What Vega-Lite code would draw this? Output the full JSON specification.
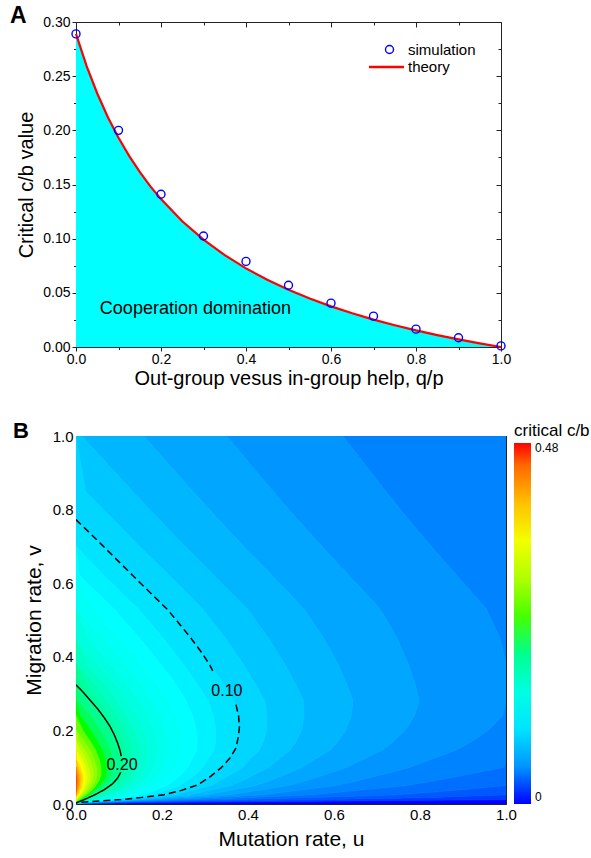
{
"$schema":"https://vega.github.io/schema/vega-lite/v6.json",
"padding":{"left":10,"top":5,"right":0,"bottom":0},
"spacing":32,
"resolve":{"scale":{"color":"independent","stroke":"independent","strokeDash":"independent"},"legend":{"color":"independent","stroke":"independent","strokeDash":"independent"}},
"config":{"font":"Liberation Sans","view":{"stroke":null},
"axis":{"grid":false,"minExtent":0,"domainColor":"#222","tickColor":"#222","labelColor":"#000","titleColor":"#000","titleFontWeight":"normal","labelOverlap":false,"labelFlush":false,"labelFont":"Liberation Sans","titleFont":"Liberation Sans"},
"legend":{"labelFont":"Liberation Sans","titleFont":"Liberation Sans"},
"title":{"font":"Liberation Sans"}},
"vconcat":[
{"width":425,"height":325,
"title":{"text":"A","anchor":"start","frame":"group","dx":-66,"offset":-13,"fontSize":23,"fontWeight":"bold","color":"#000"},
"layer":[
{"data":{"name":"theoryA","values":[{"q":0,"cb":0.289,"s":"theory"},{"q":0.025,"cb":0.2593,"s":"theory"},{"q":0.05,"cb":0.234,"s":"theory"},{"q":0.075,"cb":0.2121,"s":"theory"},{"q":0.1,"cb":0.1931,"s":"theory"},{"q":0.125,"cb":0.1764,"s":"theory"},{"q":0.15,"cb":0.1616,"s":"theory"},{"q":0.175,"cb":0.1483,"s":"theory"},{"q":0.2,"cb":0.1365,"s":"theory"},{"q":0.25,"cb":0.1161,"s":"theory"},{"q":0.3,"cb":0.0991,"s":"theory"},{"q":0.35,"cb":0.0848,"s":"theory"},{"q":0.4,"cb":0.0726,"s":"theory"},{"q":0.45,"cb":0.0621,"s":"theory"},{"q":0.5,"cb":0.0528,"s":"theory"},{"q":0.55,"cb":0.0447,"s":"theory"},{"q":0.6,"cb":0.0375,"s":"theory"},{"q":0.65,"cb":0.0311,"s":"theory"},{"q":0.7,"cb":0.0253,"s":"theory"},{"q":0.75,"cb":0.0201,"s":"theory"},{"q":0.8,"cb":0.0153,"s":"theory"},{"q":0.85,"cb":0.011,"s":"theory"},{"q":0.9,"cb":0.007,"s":"theory"},{"q":0.95,"cb":0.0034,"s":"theory"},{"q":1,"cb":0,"s":"theory"}]},
"mark":{"type":"area","color":"#00ffff","opacity":1},
"encoding":{
"x":{"field":"q","type":"quantitative","scale":{"domain":[0,1],"nice":false,"zero":false},
"axis":{"orient":"bottom","values":[0,0.1,0.2,0.3,0.4,0.5,0.6,0.7,0.8,0.9,1],"labelExpr":"round(datum.value*10)%2==0 ? format(datum.value,'.1f') : ''","tickSize":{"condition":{"test":"round(datum.value*10)%2==0","value":4},"value":2.5},"title":"Out-group vesus in-group help, q/p","titleFontSize":20,"titlePadding":2,"labelFontSize":14,"labelPadding":1}},
"y":{"field":"cb","type":"quantitative","scale":{"domain":[0,0.3],"nice":false,"zero":false},
"axis":{"orient":"left","values":[0,0.025,0.05,0.075,0.1,0.125,0.15,0.175,0.2,0.225,0.25,0.275,0.3],"labelExpr":"round(datum.value*40)%2==0 ? format(datum.value,'.2f') : ''","tickSize":{"condition":{"test":"round(datum.value*40)%2==0","value":4},"value":2.5},"title":"Critical c/b value","titleFontSize":20,"titlePadding":6,"labelFontSize":14,"labelPadding":2}}}},
{"data":{"name":"theoryA"},
"mark":{"type":"line","strokeWidth":2.2},
"encoding":{
"x":{"field":"q","type":"quantitative","scale":{"domain":[0,1],"nice":false,"zero":false},
"axis":{"orient":"top","values":[0,0.1,0.2,0.3,0.4,0.5,0.6,0.7,0.8,0.9,1],"labels":false,"title":null,"minExtent":0,"tickSize":{"condition":{"test":"round(datum.value*10)%2==0","value":-5},"value":-3}}},
"y":{"field":"cb","type":"quantitative","scale":{"domain":[0,0.3],"nice":false,"zero":false},
"axis":{"orient":"right","values":[0,0.025,0.05,0.075,0.1,0.125,0.15,0.175,0.2,0.225,0.25,0.275,0.3],"labels":false,"title":null,"minExtent":0,"tickSize":{"condition":{"test":"round(datum.value*40)%2==0","value":-5},"value":-3}}},
"stroke":{"field":"s","type":"nominal","scale":{"domain":["theory"],"range":["#ff0000"]},
"legend":{"title":null,"orient":"none","legendX":291.5,"legendY":26,"direction":"vertical","padding":0,"labelFontSize":15,"symbolType":"stroke","symbolSize":1225,"symbolStrokeWidth":2.5,"symbolOffset":0,"labelOffset":2.5}}}},
{"data":{"values":[{"q":0,"cb":0.289,"s":"simulation"},{"q":0.1,"cb":0.2,"s":"simulation"},{"q":0.2,"cb":0.141,"s":"simulation"},{"q":0.3,"cb":0.1025,"s":"simulation"},{"q":0.4,"cb":0.079,"s":"simulation"},{"q":0.5,"cb":0.057,"s":"simulation"},{"q":0.6,"cb":0.0405,"s":"simulation"},{"q":0.7,"cb":0.0285,"s":"simulation"},{"q":0.8,"cb":0.0165,"s":"simulation"},{"q":0.9,"cb":0.0085,"s":"simulation"},{"q":1,"cb":0.001,"s":"simulation"}]},
"mark":{"type":"point","filled":false,"size":64,"strokeWidth":1.4,"opacity":1,"clip":false},
"encoding":{
"x":{"field":"q","type":"quantitative","scale":{"domain":[0,1],"nice":false,"zero":false},"axis":null},
"y":{"field":"cb","type":"quantitative","scale":{"domain":[0,0.3],"nice":false,"zero":false},"axis":null},
"color":{"field":"s","type":"nominal","scale":{"domain":["simulation"],"range":["#0000ff"]},
"legend":{"title":null,"orient":"none","legendX":290,"legendY":20,"direction":"vertical","padding":0,"labelFontSize":15,"symbolType":"circle","symbolSize":64,"symbolStrokeWidth":1.4,"symbolOffset":16,"labelOffset":11}}}},
{"data":{"values":[{}]},
"mark":{"type":"text","fontSize":18,"color":"#000"},
"encoding":{"x":{"datum":0.281,"type":"quantitative","scale":{"domain":[0,1],"nice":false,"zero":false},"axis":null},"y":{"datum":0.035,"type":"quantitative","scale":{"domain":[0,0.3],"nice":false,"zero":false},"axis":null},"text":{"value":"Cooperation domination"}}}
],
"resolve":{"axis":{"x":"independent","y":"independent"}}},
{"width":430,"height":368,
"title":{"text":"B","anchor":"start","frame":"group","dx":-63,"offset":-20,"fontSize":22,"fontWeight":"bold","color":"#000"},
"layer":[
{"data":{"values":[
{"z":0,"v":0,"a":0,"b":1},{"z":0,"v":0.004,"a":0.136,"b":1},{"z":0,"v":0.008,"a":0.592,"b":1},{"z":0,"v":0.012,"a":1,"b":1},
{"z":0.01,"v":0,"a":0,"b":0},{"z":0.01,"v":0.004,"a":0.066,"b":0.136},{"z":0.01,"v":0.008,"a":0.292,"b":0.592},{"z":0.01,"v":0.012,"a":0.573,"b":1},{"z":0.01,"v":0.018,"a":0.827,"b":1},{"z":0.01,"v":0.025,"a":1,"b":1},
{"z":0.02,"v":0,"a":0,"b":0},{"z":0.02,"v":0.004,"a":0.043,"b":0.066},{"z":0.02,"v":0.008,"a":0.192,"b":0.292},{"z":0.02,"v":0.012,"a":0.378,"b":0.573},{"z":0.02,"v":0.018,"a":0.545,"b":0.827},{"z":0.02,"v":0.025,"a":0.742,"b":1},{"z":0.02,"v":0.035,"a":0.862,"b":1},{"z":0.02,"v":0.05,"a":1,"b":1},
{"z":0.03,"v":0,"a":0,"b":0},{"z":0.03,"v":0.004,"a":0.031,"b":0.043},{"z":0.03,"v":0.008,"a":0.142,"b":0.192},{"z":0.03,"v":0.012,"a":0.281,"b":0.378},{"z":0.03,"v":0.018,"a":0.405,"b":0.545},{"z":0.03,"v":0.025,"a":0.55,"b":0.742},{"z":0.03,"v":0.035,"a":0.638,"b":0.862},{"z":0.03,"v":0.05,"a":0.768,"b":1},{"z":0.03,"v":0.065,"a":0.843,"b":1},{"z":0.03,"v":0.08,"a":0.91,"b":1},{"z":0.03,"v":0.1,"a":0.995,"b":1},{"z":0.03,"v":0.12,"a":1,"b":1},
{"z":0.04,"v":0,"a":0,"b":0},{"z":0.04,"v":0.004,"a":0.024,"b":0.031},{"z":0.04,"v":0.008,"a":0.112,"b":0.142},{"z":0.04,"v":0.012,"a":0.222,"b":0.281},{"z":0.04,"v":0.018,"a":0.32,"b":0.405},{"z":0.04,"v":0.025,"a":0.435,"b":0.55},{"z":0.04,"v":0.035,"a":0.503,"b":0.638},{"z":0.04,"v":0.05,"a":0.604,"b":0.768},{"z":0.04,"v":0.065,"a":0.661,"b":0.843},{"z":0.04,"v":0.08,"a":0.712,"b":0.91},{"z":0.04,"v":0.1,"a":0.776,"b":0.995},{"z":0.04,"v":0.12,"a":0.822,"b":1},{"z":0.04,"v":0.145,"a":0.881,"b":1},{"z":0.04,"v":0.17,"a":0.92,"b":1},{"z":0.04,"v":0.2,"a":0.958,"b":1},{"z":0.04,"v":0.24,"a":0.992,"b":1},{"z":0.04,"v":0.28,"a":1,"b":1},{"z":0.04,"v":0.324,"a":1,"b":1},{"z":0.04,"v":0.38,"a":1,"b":1},{"z":0.04,"v":0.45,"a":0.986,"b":1},{"z":0.04,"v":0.53,"a":0.954,"b":1},{"z":0.04,"v":0.62,"a":0.886,"b":1},{"z":0.04,"v":0.7,"a":0.826,"b":1},{"z":0.04,"v":0.773,"a":0.773,"b":1},{"z":0.04,"v":0.85,"a":0.72,"b":1},{"z":0.04,"v":1,"a":0.62,"b":1},
{"z":0.05,"v":0,"a":0,"b":0},{"z":0.05,"v":0.004,"a":0.019,"b":0.024},{"z":0.05,"v":0.008,"a":0.092,"b":0.112},{"z":0.05,"v":0.012,"a":0.183,"b":0.222},{"z":0.05,"v":0.018,"a":0.264,"b":0.32},{"z":0.05,"v":0.025,"a":0.358,"b":0.435},{"z":0.05,"v":0.035,"a":0.413,"b":0.503},{"z":0.05,"v":0.05,"a":0.495,"b":0.604},{"z":0.05,"v":0.065,"a":0.54,"b":0.661},{"z":0.05,"v":0.08,"a":0.58,"b":0.712},{"z":0.05,"v":0.1,"a":0.63,"b":0.776},{"z":0.05,"v":0.12,"a":0.665,"b":0.822},{"z":0.05,"v":0.145,"a":0.71,"b":0.881},{"z":0.05,"v":0.17,"a":0.738,"b":0.92},{"z":0.05,"v":0.2,"a":0.765,"b":0.958},{"z":0.05,"v":0.24,"a":0.787,"b":0.992},{"z":0.05,"v":0.28,"a":0.798,"b":1},{"z":0.05,"v":0.324,"a":0.789,"b":1},{"z":0.05,"v":0.38,"a":0.773,"b":1},{"z":0.05,"v":0.45,"a":0.747,"b":0.986},{"z":0.05,"v":0.53,"a":0.707,"b":0.954},{"z":0.05,"v":0.62,"a":0.635,"b":0.886},{"z":0.05,"v":0.7,"a":0.572,"b":0.826},{"z":0.05,"v":0.773,"a":0.515,"b":0.773},{"z":0.05,"v":0.85,"a":0.458,"b":0.72},{"z":0.05,"v":1,"a":0.35,"b":0.62},
{"z":0.06,"v":0,"a":0,"b":0},{"z":0.06,"v":0.004,"a":0.016,"b":0.019},{"z":0.06,"v":0.008,"a":0.078,"b":0.092},{"z":0.06,"v":0.012,"a":0.155,"b":0.183},{"z":0.06,"v":0.018,"a":0.223,"b":0.264},{"z":0.06,"v":0.025,"a":0.304,"b":0.358},{"z":0.06,"v":0.035,"a":0.349,"b":0.413},{"z":0.06,"v":0.05,"a":0.417,"b":0.495},{"z":0.06,"v":0.065,"a":0.454,"b":0.54},{"z":0.06,"v":0.08,"a":0.486,"b":0.58},{"z":0.06,"v":0.1,"a":0.526,"b":0.63},{"z":0.06,"v":0.12,"a":0.553,"b":0.665},{"z":0.06,"v":0.145,"a":0.588,"b":0.71},{"z":0.06,"v":0.17,"a":0.609,"b":0.738},{"z":0.06,"v":0.2,"a":0.627,"b":0.765},{"z":0.06,"v":0.24,"a":0.64,"b":0.787},{"z":0.06,"v":0.28,"a":0.644,"b":0.798},{"z":0.06,"v":0.324,"a":0.63,"b":0.789},{"z":0.06,"v":0.38,"a":0.609,"b":0.773},{"z":0.06,"v":0.45,"a":0.576,"b":0.747},{"z":0.06,"v":0.53,"a":0.53,"b":0.707},{"z":0.06,"v":0.62,"a":0.456,"b":0.635},{"z":0.06,"v":0.7,"a":0.39,"b":0.572},{"z":0.06,"v":0.773,"a":0.331,"b":0.515},{"z":0.06,"v":0.85,"a":0.271,"b":0.458},{"z":0.06,"v":1,"a":0.157,"b":0.35},
{"z":0.07,"v":0,"a":0,"b":0},{"z":0.07,"v":0.004,"a":0.014,"b":0.016},{"z":0.07,"v":0.008,"a":0.067,"b":0.078},{"z":0.07,"v":0.012,"a":0.134,"b":0.155},{"z":0.07,"v":0.018,"a":0.193,"b":0.223},{"z":0.07,"v":0.025,"a":0.263,"b":0.304},{"z":0.07,"v":0.035,"a":0.301,"b":0.349},{"z":0.07,"v":0.05,"a":0.359,"b":0.417},{"z":0.07,"v":0.065,"a":0.389,"b":0.454},{"z":0.07,"v":0.08,"a":0.415,"b":0.486},{"z":0.07,"v":0.1,"a":0.448,"b":0.526},{"z":0.07,"v":0.12,"a":0.469,"b":0.553},{"z":0.07,"v":0.145,"a":0.496,"b":0.588},{"z":0.07,"v":0.17,"a":0.511,"b":0.609},{"z":0.07,"v":0.2,"a":0.524,"b":0.627},{"z":0.07,"v":0.24,"a":0.53,"b":0.64},{"z":0.07,"v":0.28,"a":0.529,"b":0.644},{"z":0.07,"v":0.324,"a":0.511,"b":0.63},{"z":0.07,"v":0.38,"a":0.485,"b":0.609},{"z":0.07,"v":0.45,"a":0.448,"b":0.576},{"z":0.07,"v":0.53,"a":0.398,"b":0.53},{"z":0.07,"v":0.62,"a":0.321,"b":0.456},{"z":0.07,"v":0.7,"a":0.254,"b":0.39},{"z":0.07,"v":0.773,"a":0.193,"b":0.331},{"z":0.07,"v":0.85,"a":0.131,"b":0.271},{"z":0.07,"v":1,"a":0.013,"b":0.157},
{"z":0.08,"v":0,"a":0,"b":0},{"z":0.08,"v":0.004,"a":0.012,"b":0.014},{"z":0.08,"v":0.008,"a":0.059,"b":0.067},{"z":0.08,"v":0.012,"a":0.118,"b":0.134},{"z":0.08,"v":0.018,"a":0.17,"b":0.193},{"z":0.08,"v":0.025,"a":0.231,"b":0.263},{"z":0.08,"v":0.035,"a":0.264,"b":0.301},{"z":0.08,"v":0.05,"a":0.313,"b":0.359},{"z":0.08,"v":0.065,"a":0.338,"b":0.389},{"z":0.08,"v":0.08,"a":0.36,"b":0.415},{"z":0.08,"v":0.1,"a":0.387,"b":0.448},{"z":0.08,"v":0.12,"a":0.403,"b":0.469},{"z":0.08,"v":0.145,"a":0.425,"b":0.496},{"z":0.08,"v":0.17,"a":0.436,"b":0.511},{"z":0.08,"v":0.2,"a":0.443,"b":0.524},{"z":0.08,"v":0.24,"a":0.444,"b":0.53},{"z":0.08,"v":0.28,"a":0.439,"b":0.529},{"z":0.08,"v":0.324,"a":0.418,"b":0.511},{"z":0.08,"v":0.38,"a":0.389,"b":0.485},{"z":0.08,"v":0.45,"a":0.348,"b":0.448},{"z":0.08,"v":0.53,"a":0.294,"b":0.398},{"z":0.08,"v":0.62,"a":0.217,"b":0.321},{"z":0.08,"v":0.7,"a":0.148,"b":0.254},{"z":0.08,"v":0.773,"a":0.086,"b":0.193},{"z":0.08,"v":0.85,"a":0.022,"b":0.131},{"z":0.08,"v":1,"a":0,"b":0.013},
{"z":0.09,"v":0,"a":0,"b":0},{"z":0.09,"v":0.004,"a":0.01,"b":0.012},{"z":0.09,"v":0.008,"a":0.052,"b":0.059},{"z":0.09,"v":0.012,"a":0.105,"b":0.118},{"z":0.09,"v":0.018,"a":0.151,"b":0.17},{"z":0.09,"v":0.025,"a":0.205,"b":0.231},{"z":0.09,"v":0.035,"a":0.234,"b":0.264},{"z":0.09,"v":0.05,"a":0.277,"b":0.313},{"z":0.09,"v":0.065,"a":0.298,"b":0.338},{"z":0.09,"v":0.08,"a":0.316,"b":0.36},{"z":0.09,"v":0.1,"a":0.338,"b":0.387},{"z":0.09,"v":0.12,"a":0.351,"b":0.403},{"z":0.09,"v":0.145,"a":0.368,"b":0.425},{"z":0.09,"v":0.17,"a":0.375,"b":0.436},{"z":0.09,"v":0.2,"a":0.379,"b":0.443},{"z":0.09,"v":0.24,"a":0.376,"b":0.444},{"z":0.09,"v":0.28,"a":0.367,"b":0.439},{"z":0.09,"v":0.324,"a":0.344,"b":0.418},{"z":0.09,"v":0.38,"a":0.312,"b":0.389},{"z":0.09,"v":0.45,"a":0.268,"b":0.348},{"z":0.09,"v":0.53,"a":0.212,"b":0.294},{"z":0.09,"v":0.62,"a":0.133,"b":0.217},{"z":0.09,"v":0.7,"a":0.063,"b":0.148},{"z":0.09,"v":0.773,"a":0,"b":0.086},{"z":0.09,"v":0.85,"a":0,"b":0.022},{"z":0.09,"v":1,"a":0,"b":0},
{"z":0.1,"v":0,"a":0,"b":0},{"z":0.1,"v":0.004,"a":0.008,"b":0.01},{"z":0.1,"v":0.008,"a":0.044,"b":0.052},{"z":0.1,"v":0.012,"a":0.089,"b":0.105},{"z":0.1,"v":0.018,"a":0.129,"b":0.151},{"z":0.1,"v":0.025,"a":0.175,"b":0.205},{"z":0.1,"v":0.035,"a":0.202,"b":0.234},{"z":0.1,"v":0.05,"a":0.241,"b":0.277},{"z":0.1,"v":0.065,"a":0.26,"b":0.298},{"z":0.1,"v":0.08,"a":0.277,"b":0.316},{"z":0.1,"v":0.1,"a":0.295,"b":0.338},{"z":0.1,"v":0.12,"a":0.306,"b":0.351},{"z":0.1,"v":0.145,"a":0.32,"b":0.368},{"z":0.1,"v":0.17,"a":0.324,"b":0.375},{"z":0.1,"v":0.2,"a":0.325,"b":0.379},{"z":0.1,"v":0.24,"a":0.319,"b":0.376},{"z":0.1,"v":0.28,"a":0.307,"b":0.367},{"z":0.1,"v":0.324,"a":0.283,"b":0.344},{"z":0.1,"v":0.38,"a":0.249,"b":0.312},{"z":0.1,"v":0.45,"a":0.203,"b":0.268},{"z":0.1,"v":0.53,"a":0.145,"b":0.212},{"z":0.1,"v":0.62,"a":0.065,"b":0.133},{"z":0.1,"v":0.7,"a":0,"b":0.063},{"z":0.1,"v":0.773,"a":0,"b":0},
{"z":0.11,"v":0,"a":0,"b":0},{"z":0.11,"v":0.004,"a":0.007,"b":0.008},{"z":0.11,"v":0.008,"a":0.038,"b":0.044},{"z":0.11,"v":0.012,"a":0.076,"b":0.089},{"z":0.11,"v":0.018,"a":0.111,"b":0.129},{"z":0.11,"v":0.025,"a":0.151,"b":0.175},{"z":0.11,"v":0.035,"a":0.176,"b":0.202},{"z":0.11,"v":0.05,"a":0.21,"b":0.241},{"z":0.11,"v":0.065,"a":0.229,"b":0.26},{"z":0.11,"v":0.08,"a":0.244,"b":0.277},{"z":0.11,"v":0.1,"a":0.26,"b":0.295},{"z":0.11,"v":0.12,"a":0.269,"b":0.306},{"z":0.11,"v":0.145,"a":0.28,"b":0.32},{"z":0.11,"v":0.17,"a":0.282,"b":0.324},{"z":0.11,"v":0.2,"a":0.28,"b":0.325},{"z":0.11,"v":0.24,"a":0.271,"b":0.319},{"z":0.11,"v":0.28,"a":0.256,"b":0.307},{"z":0.11,"v":0.324,"a":0.233,"b":0.283},{"z":0.11,"v":0.38,"a":0.197,"b":0.249},{"z":0.11,"v":0.45,"a":0.148,"b":0.203},{"z":0.11,"v":0.53,"a":0.088,"b":0.145},{"z":0.11,"v":0.62,"a":0.008,"b":0.065},{"z":0.11,"v":0.7,"a":0,"b":0},
{"z":0.12,"v":0,"a":0,"b":0},{"z":0.12,"v":0.004,"a":0.005,"b":0.007},{"z":0.12,"v":0.008,"a":0.032,"b":0.038},{"z":0.12,"v":0.012,"a":0.065,"b":0.076},{"z":0.12,"v":0.018,"a":0.095,"b":0.111},{"z":0.12,"v":0.025,"a":0.13,"b":0.151},{"z":0.12,"v":0.035,"a":0.153,"b":0.176},{"z":0.12,"v":0.05,"a":0.185,"b":0.21},{"z":0.12,"v":0.065,"a":0.203,"b":0.229},{"z":0.12,"v":0.08,"a":0.216,"b":0.244},{"z":0.12,"v":0.1,"a":0.23,"b":0.26},{"z":0.12,"v":0.12,"a":0.237,"b":0.269},{"z":0.12,"v":0.145,"a":0.246,"b":0.28},{"z":0.12,"v":0.17,"a":0.246,"b":0.282},{"z":0.12,"v":0.2,"a":0.242,"b":0.28},{"z":0.12,"v":0.24,"a":0.231,"b":0.271},{"z":0.12,"v":0.28,"a":0.214,"b":0.256},{"z":0.12,"v":0.324,"a":0.19,"b":0.233},{"z":0.12,"v":0.38,"a":0.152,"b":0.197},{"z":0.12,"v":0.45,"a":0.102,"b":0.148},{"z":0.12,"v":0.53,"a":0.041,"b":0.088},{"z":0.12,"v":0.62,"a":0,"b":0.008},{"z":0.12,"v":0.7,"a":0,"b":0},
{"z":0.13,"v":0,"a":0,"b":0},{"z":0.13,"v":0.004,"a":0.004,"b":0.005},{"z":0.13,"v":0.008,"a":0.027,"b":0.032},{"z":0.13,"v":0.012,"a":0.055,"b":0.065},{"z":0.13,"v":0.018,"a":0.082,"b":0.095},{"z":0.13,"v":0.025,"a":0.112,"b":0.13},{"z":0.13,"v":0.035,"a":0.134,"b":0.153},{"z":0.13,"v":0.05,"a":0.163,"b":0.185},{"z":0.13,"v":0.065,"a":0.18,"b":0.203},{"z":0.13,"v":0.08,"a":0.192,"b":0.216},{"z":0.13,"v":0.1,"a":0.204,"b":0.23},{"z":0.13,"v":0.12,"a":0.21,"b":0.237},{"z":0.13,"v":0.145,"a":0.217,"b":0.246},{"z":0.13,"v":0.17,"a":0.215,"b":0.246},{"z":0.13,"v":0.2,"a":0.21,"b":0.242},{"z":0.13,"v":0.24,"a":0.197,"b":0.231},{"z":0.13,"v":0.28,"a":0.177,"b":0.214},{"z":0.13,"v":0.324,"a":0.153,"b":0.19},{"z":0.13,"v":0.38,"a":0.114,"b":0.152},{"z":0.13,"v":0.45,"a":0.063,"b":0.102},{"z":0.13,"v":0.53,"a":0,"b":0.041},{"z":0.13,"v":0.62,"a":0,"b":0},
{"z":0.14,"v":0,"a":0,"b":0},{"z":0.14,"v":0.004,"a":0.003,"b":0.004},{"z":0.14,"v":0.008,"a":0.023,"b":0.027},{"z":0.14,"v":0.012,"a":0.047,"b":0.055},{"z":0.14,"v":0.018,"a":0.07,"b":0.082},{"z":0.14,"v":0.025,"a":0.096,"b":0.112},{"z":0.14,"v":0.035,"a":0.117,"b":0.134},{"z":0.14,"v":0.05,"a":0.144,"b":0.163},{"z":0.14,"v":0.065,"a":0.16,"b":0.18},{"z":0.14,"v":0.08,"a":0.171,"b":0.192},{"z":0.14,"v":0.1,"a":0.181,"b":0.204},{"z":0.14,"v":0.12,"a":0.186,"b":0.21},{"z":0.14,"v":0.145,"a":0.191,"b":0.217},{"z":0.14,"v":0.17,"a":0.188,"b":0.215},{"z":0.14,"v":0.2,"a":0.182,"b":0.21},{"z":0.14,"v":0.24,"a":0.167,"b":0.197},{"z":0.14,"v":0.28,"a":0.146,"b":0.177},{"z":0.14,"v":0.324,"a":0.121,"b":0.153},{"z":0.14,"v":0.38,"a":0.081,"b":0.114},{"z":0.14,"v":0.45,"a":0.029,"b":0.063},{"z":0.14,"v":0.53,"a":0,"b":0},
{"z":0.15,"v":0,"a":0,"b":0},{"z":0.15,"v":0.004,"a":0.003,"b":0.003},{"z":0.15,"v":0.008,"a":0.02,"b":0.023},{"z":0.15,"v":0.012,"a":0.04,"b":0.047},{"z":0.15,"v":0.018,"a":0.06,"b":0.07},{"z":0.15,"v":0.025,"a":0.083,"b":0.096},{"z":0.15,"v":0.035,"a":0.103,"b":0.117},{"z":0.15,"v":0.05,"a":0.127,"b":0.144},{"z":0.15,"v":0.065,"a":0.143,"b":0.16},{"z":0.15,"v":0.08,"a":0.153,"b":0.171},{"z":0.15,"v":0.1,"a":0.162,"b":0.181},{"z":0.15,"v":0.12,"a":0.166,"b":0.186},{"z":0.15,"v":0.145,"a":0.169,"b":0.191},{"z":0.15,"v":0.17,"a":0.165,"b":0.188},{"z":0.15,"v":0.2,"a":0.157,"b":0.182},{"z":0.15,"v":0.24,"a":0.141,"b":0.167},{"z":0.15,"v":0.28,"a":0.118,"b":0.146},{"z":0.15,"v":0.324,"a":0.094,"b":0.121},{"z":0.15,"v":0.38,"a":0.053,"b":0.081},{"z":0.15,"v":0.45,"a":0,"b":0.029},{"z":0.15,"v":0.53,"a":0,"b":0},
{"z":0.16,"v":0,"a":0,"b":0},{"z":0.16,"v":0.004,"a":0.002,"b":0.003},{"z":0.16,"v":0.008,"a":0.017,"b":0.02},{"z":0.16,"v":0.012,"a":0.033,"b":0.04},{"z":0.16,"v":0.018,"a":0.051,"b":0.06},{"z":0.16,"v":0.025,"a":0.071,"b":0.083},{"z":0.16,"v":0.035,"a":0.09,"b":0.103},{"z":0.16,"v":0.05,"a":0.112,"b":0.127},{"z":0.16,"v":0.065,"a":0.128,"b":0.143},{"z":0.16,"v":0.08,"a":0.137,"b":0.153},{"z":0.16,"v":0.1,"a":0.145,"b":0.162},{"z":0.16,"v":0.12,"a":0.148,"b":0.166},{"z":0.16,"v":0.145,"a":0.15,"b":0.169},{"z":0.16,"v":0.17,"a":0.144,"b":0.165},{"z":0.16,"v":0.2,"a":0.135,"b":0.157},{"z":0.16,"v":0.24,"a":0.117,"b":0.141},{"z":0.16,"v":0.28,"a":0.094,"b":0.118},{"z":0.16,"v":0.324,"a":0.069,"b":0.094},{"z":0.16,"v":0.38,"a":0.027,"b":0.053},{"z":0.16,"v":0.45,"a":0,"b":0},
{"z":0.17,"v":0,"a":0,"b":0},{"z":0.17,"v":0.004,"a":0.001,"b":0.002},{"z":0.17,"v":0.008,"a":0.014,"b":0.017},{"z":0.17,"v":0.012,"a":0.028,"b":0.033},{"z":0.17,"v":0.018,"a":0.043,"b":0.051},{"z":0.17,"v":0.025,"a":0.06,"b":0.071},{"z":0.17,"v":0.035,"a":0.078,"b":0.09},{"z":0.17,"v":0.05,"a":0.099,"b":0.112},{"z":0.17,"v":0.065,"a":0.114,"b":0.128},{"z":0.17,"v":0.08,"a":0.123,"b":0.137},{"z":0.17,"v":0.1,"a":0.129,"b":0.145},{"z":0.17,"v":0.12,"a":0.131,"b":0.148},{"z":0.17,"v":0.145,"a":0.132,"b":0.15},{"z":0.17,"v":0.17,"a":0.126,"b":0.144},{"z":0.17,"v":0.2,"a":0.116,"b":0.135},{"z":0.17,"v":0.24,"a":0.097,"b":0.117},{"z":0.17,"v":0.28,"a":0.072,"b":0.094},{"z":0.17,"v":0.324,"a":0.047,"b":0.069},{"z":0.17,"v":0.38,"a":0.004,"b":0.027},{"z":0.17,"v":0.45,"a":0,"b":0},
{"z":0.18,"v":0,"a":0,"b":0},{"z":0.18,"v":0.004,"a":0.001,"b":0.001},{"z":0.18,"v":0.008,"a":0.011,"b":0.014},{"z":0.18,"v":0.012,"a":0.023,"b":0.028},{"z":0.18,"v":0.018,"a":0.036,"b":0.043},{"z":0.18,"v":0.025,"a":0.051,"b":0.06},{"z":0.18,"v":0.035,"a":0.068,"b":0.078},{"z":0.18,"v":0.05,"a":0.088,"b":0.099},{"z":0.18,"v":0.065,"a":0.102,"b":0.114},{"z":0.18,"v":0.08,"a":0.11,"b":0.123},{"z":0.18,"v":0.1,"a":0.115,"b":0.129},{"z":0.18,"v":0.12,"a":0.117,"b":0.131},{"z":0.18,"v":0.145,"a":0.117,"b":0.132},{"z":0.18,"v":0.17,"a":0.11,"b":0.126},{"z":0.18,"v":0.2,"a":0.099,"b":0.116},{"z":0.18,"v":0.24,"a":0.079,"b":0.097},{"z":0.18,"v":0.28,"a":0.053,"b":0.072},{"z":0.18,"v":0.324,"a":0.028,"b":0.047},{"z":0.18,"v":0.38,"a":0,"b":0.004},{"z":0.18,"v":0.45,"a":0,"b":0},
{"z":0.19,"v":0,"a":0,"b":0},{"z":0.19,"v":0.004,"a":0,"b":0.001},{"z":0.19,"v":0.008,"a":0.009,"b":0.011},{"z":0.19,"v":0.012,"a":0.018,"b":0.023},{"z":0.19,"v":0.018,"a":0.03,"b":0.036},{"z":0.19,"v":0.025,"a":0.042,"b":0.051},{"z":0.19,"v":0.035,"a":0.059,"b":0.068},{"z":0.19,"v":0.05,"a":0.077,"b":0.088},{"z":0.19,"v":0.065,"a":0.091,"b":0.102},{"z":0.19,"v":0.08,"a":0.099,"b":0.11},{"z":0.19,"v":0.1,"a":0.103,"b":0.115},{"z":0.19,"v":0.12,"a":0.104,"b":0.117},{"z":0.19,"v":0.145,"a":0.103,"b":0.117},{"z":0.19,"v":0.17,"a":0.095,"b":0.11},{"z":0.19,"v":0.2,"a":0.083,"b":0.099},{"z":0.19,"v":0.24,"a":0.062,"b":0.079},{"z":0.19,"v":0.28,"a":0.035,"b":0.053},{"z":0.19,"v":0.324,"a":0.01,"b":0.028},{"z":0.19,"v":0.38,"a":0,"b":0},
{"z":0.2,"v":0,"a":0,"b":0},{"z":0.2,"v":0.004,"a":0,"b":0},{"z":0.2,"v":0.008,"a":0.006,"b":0.009},{"z":0.2,"v":0.012,"a":0.014,"b":0.018},{"z":0.2,"v":0.018,"a":0.024,"b":0.03},{"z":0.2,"v":0.025,"a":0.035,"b":0.042},{"z":0.2,"v":0.035,"a":0.049,"b":0.059},{"z":0.2,"v":0.05,"a":0.065,"b":0.077},{"z":0.2,"v":0.065,"a":0.077,"b":0.091},{"z":0.2,"v":0.08,"a":0.083,"b":0.099},{"z":0.2,"v":0.1,"a":0.085,"b":0.103},{"z":0.2,"v":0.12,"a":0.084,"b":0.104},{"z":0.2,"v":0.145,"a":0.081,"b":0.103},{"z":0.2,"v":0.17,"a":0.071,"b":0.095},{"z":0.2,"v":0.2,"a":0.057,"b":0.083},{"z":0.2,"v":0.24,"a":0.034,"b":0.062},{"z":0.2,"v":0.28,"a":0.006,"b":0.035},{"z":0.2,"v":0.324,"a":0,"b":0.01},{"z":0.2,"v":0.38,"a":0,"b":0},
{"z":0.22,"v":0.004,"a":0,"b":0},{"z":0.22,"v":0.008,"a":0.004,"b":0.006},{"z":0.22,"v":0.012,"a":0.01,"b":0.014},{"z":0.22,"v":0.018,"a":0.019,"b":0.024},{"z":0.22,"v":0.025,"a":0.029,"b":0.035},{"z":0.22,"v":0.035,"a":0.041,"b":0.049},{"z":0.22,"v":0.05,"a":0.055,"b":0.065},{"z":0.22,"v":0.065,"a":0.065,"b":0.077},{"z":0.22,"v":0.08,"a":0.07,"b":0.083},{"z":0.22,"v":0.1,"a":0.07,"b":0.085},{"z":0.22,"v":0.12,"a":0.068,"b":0.084},{"z":0.22,"v":0.145,"a":0.062,"b":0.081},{"z":0.22,"v":0.17,"a":0.05,"b":0.071},{"z":0.22,"v":0.2,"a":0.035,"b":0.057},{"z":0.22,"v":0.24,"a":0.01,"b":0.034},{"z":0.22,"v":0.28,"a":0,"b":0.006},{"z":0.22,"v":0.324,"a":0,"b":0},
{"z":0.24,"v":0.004,"a":0,"b":0},{"z":0.24,"v":0.008,"a":0.002,"b":0.004},{"z":0.24,"v":0.012,"a":0.008,"b":0.01},{"z":0.24,"v":0.018,"a":0.015,"b":0.019},{"z":0.24,"v":0.025,"a":0.024,"b":0.029},{"z":0.24,"v":0.035,"a":0.035,"b":0.041},{"z":0.24,"v":0.05,"a":0.046,"b":0.055},{"z":0.24,"v":0.065,"a":0.054,"b":0.065},{"z":0.24,"v":0.08,"a":0.058,"b":0.07},{"z":0.24,"v":0.1,"a":0.058,"b":0.07},{"z":0.24,"v":0.12,"a":0.054,"b":0.068},{"z":0.24,"v":0.145,"a":0.046,"b":0.062},{"z":0.24,"v":0.17,"a":0.033,"b":0.05},{"z":0.24,"v":0.2,"a":0.016,"b":0.035},{"z":0.24,"v":0.24,"a":0,"b":0.01},{"z":0.24,"v":0.28,"a":0,"b":0},
{"z":0.26,"v":0.004,"a":0,"b":0},{"z":0.26,"v":0.008,"a":0,"b":0.002},{"z":0.26,"v":0.012,"a":0.005,"b":0.008},{"z":0.26,"v":0.018,"a":0.012,"b":0.015},{"z":0.26,"v":0.025,"a":0.019,"b":0.024},{"z":0.26,"v":0.035,"a":0.029,"b":0.035},{"z":0.26,"v":0.05,"a":0.039,"b":0.046},{"z":0.26,"v":0.065,"a":0.046,"b":0.054},{"z":0.26,"v":0.08,"a":0.049,"b":0.058},{"z":0.26,"v":0.1,"a":0.047,"b":0.058},{"z":0.26,"v":0.12,"a":0.042,"b":0.054},{"z":0.26,"v":0.145,"a":0.033,"b":0.046},{"z":0.26,"v":0.17,"a":0.019,"b":0.033},{"z":0.26,"v":0.2,"a":0,"b":0.016},{"z":0.26,"v":0.24,"a":0,"b":0},
{"z":0.28,"v":0.008,"a":0,"b":0},{"z":0.28,"v":0.012,"a":0.003,"b":0.005},{"z":0.28,"v":0.018,"a":0.009,"b":0.012},{"z":0.28,"v":0.025,"a":0.015,"b":0.019},{"z":0.28,"v":0.035,"a":0.024,"b":0.029},{"z":0.28,"v":0.05,"a":0.032,"b":0.039},{"z":0.28,"v":0.065,"a":0.038,"b":0.046},{"z":0.28,"v":0.08,"a":0.04,"b":0.049},{"z":0.28,"v":0.1,"a":0.038,"b":0.047},{"z":0.28,"v":0.12,"a":0.032,"b":0.042},{"z":0.28,"v":0.145,"a":0.021,"b":0.033},{"z":0.28,"v":0.17,"a":0.006,"b":0.019},{"z":0.28,"v":0.2,"a":0,"b":0},
{"z":0.3,"v":0.008,"a":0,"b":0},{"z":0.3,"v":0.012,"a":0.001,"b":0.003},{"z":0.3,"v":0.018,"a":0.006,"b":0.009},{"z":0.3,"v":0.025,"a":0.012,"b":0.015},{"z":0.3,"v":0.035,"a":0.019,"b":0.024},{"z":0.3,"v":0.05,"a":0.027,"b":0.032},{"z":0.3,"v":0.065,"a":0.032,"b":0.038},{"z":0.3,"v":0.08,"a":0.033,"b":0.04},{"z":0.3,"v":0.1,"a":0.029,"b":0.038},{"z":0.3,"v":0.12,"a":0.023,"b":0.032},{"z":0.3,"v":0.145,"a":0.011,"b":0.021},{"z":0.3,"v":0.17,"a":0,"b":0.006},{"z":0.3,"v":0.2,"a":0,"b":0},
{"z":0.32,"v":0.008,"a":0,"b":0},{"z":0.32,"v":0.012,"a":0,"b":0.001},{"z":0.32,"v":0.018,"a":0.004,"b":0.006},{"z":0.32,"v":0.025,"a":0.009,"b":0.012},{"z":0.32,"v":0.035,"a":0.015,"b":0.019},{"z":0.32,"v":0.05,"a":0.022,"b":0.027},{"z":0.32,"v":0.065,"a":0.026,"b":0.032},{"z":0.32,"v":0.08,"a":0.026,"b":0.033},{"z":0.32,"v":0.1,"a":0.022,"b":0.029},{"z":0.32,"v":0.12,"a":0.015,"b":0.023},{"z":0.32,"v":0.145,"a":0.002,"b":0.011},{"z":0.32,"v":0.17,"a":0,"b":0},
{"z":0.34,"v":0.012,"a":0,"b":0},{"z":0.34,"v":0.018,"a":0.002,"b":0.004},{"z":0.34,"v":0.025,"a":0.006,"b":0.009},{"z":0.34,"v":0.035,"a":0.012,"b":0.015},{"z":0.34,"v":0.05,"a":0.017,"b":0.022},{"z":0.34,"v":0.065,"a":0.021,"b":0.026},{"z":0.34,"v":0.08,"a":0.021,"b":0.026},{"z":0.34,"v":0.1,"a":0.016,"b":0.022},{"z":0.34,"v":0.12,"a":0.008,"b":0.015},{"z":0.34,"v":0.145,"a":0,"b":0.002},{"z":0.34,"v":0.17,"a":0,"b":0},
{"z":0.36,"v":0.012,"a":0,"b":0},{"z":0.36,"v":0.018,"a":0,"b":0.002},{"z":0.36,"v":0.025,"a":0.004,"b":0.006},{"z":0.36,"v":0.035,"a":0.009,"b":0.012},{"z":0.36,"v":0.05,"a":0.014,"b":0.017},{"z":0.36,"v":0.065,"a":0.016,"b":0.021},{"z":0.36,"v":0.08,"a":0.015,"b":0.021},{"z":0.36,"v":0.1,"a":0.01,"b":0.016},{"z":0.36,"v":0.12,"a":0.002,"b":0.008},{"z":0.36,"v":0.145,"a":0,"b":0},
{"z":0.38,"v":0.018,"a":0,"b":0},{"z":0.38,"v":0.025,"a":0.002,"b":0.004},{"z":0.38,"v":0.035,"a":0.006,"b":0.009},{"z":0.38,"v":0.05,"a":0.01,"b":0.014},{"z":0.38,"v":0.065,"a":0.012,"b":0.016},{"z":0.38,"v":0.08,"a":0.011,"b":0.015},{"z":0.38,"v":0.1,"a":0.005,"b":0.01},{"z":0.38,"v":0.12,"a":0,"b":0.002},{"z":0.38,"v":0.145,"a":0,"b":0},
{"z":0.4,"v":0.018,"a":0,"b":0},{"z":0.4,"v":0.025,"a":0,"b":0.002},{"z":0.4,"v":0.035,"a":0.003,"b":0.006},{"z":0.4,"v":0.05,"a":0.007,"b":0.01},{"z":0.4,"v":0.065,"a":0.008,"b":0.012},{"z":0.4,"v":0.08,"a":0.007,"b":0.011},{"z":0.4,"v":0.1,"a":0,"b":0.005},{"z":0.4,"v":0.12,"a":0,"b":0},
{"z":0.42,"v":0.025,"a":0,"b":0},{"z":0.42,"v":0.035,"a":0.001,"b":0.003},{"z":0.42,"v":0.05,"a":0.004,"b":0.007},{"z":0.42,"v":0.065,"a":0.005,"b":0.008},{"z":0.42,"v":0.08,"a":0.003,"b":0.007},{"z":0.42,"v":0.1,"a":0,"b":0},
{"z":0.44,"v":0.025,"a":0,"b":0},{"z":0.44,"v":0.035,"a":0,"b":0.001},{"z":0.44,"v":0.05,"a":0.001,"b":0.004},{"z":0.44,"v":0.065,"a":0.002,"b":0.005},{"z":0.44,"v":0.08,"a":0,"b":0.003},{"z":0.44,"v":0.1,"a":0,"b":0},
{"z":0.46,"v":0.035,"a":0,"b":0},{"z":0.46,"v":0.05,"a":0,"b":0.001},{"z":0.46,"v":0.065,"a":0,"b":0.002},{"z":0.46,"v":0.08,"a":0,"b":0}
]},
"mark":{"type":"area","orient":"horizontal","strokeWidth":0.8,"clip":true},
"encoding":{
"y":{"field":"v","type":"quantitative","scale":{"domain":[0,1],"nice":false,"zero":false},
"axis":{"orient":"left","values":[0,0.1,0.2,0.3,0.4,0.5,0.6,0.7,0.8,0.9,1],"labelExpr":"round(datum.value*10)%2==0 ? format(datum.value,'.1f') : ''","tickSize":{"condition":{"test":"round(datum.value*10)%2==0","value":-6},"value":-3},"title":"Migration rate, v","titleFontSize":21,"titlePadding":8,"labelFontSize":15,"labelPadding":9}},
"x":{"field":"a","type":"quantitative","stack":null,"scale":{"domain":[0,1],"nice":false,"zero":false},
"axis":{"orient":"bottom","values":[0,0.1,0.2,0.3,0.4,0.5,0.6,0.7,0.8,0.9,1],"labelExpr":"round(datum.value*10)%2==0 ? format(datum.value,'.1f') : ''","tickSize":{"condition":{"test":"round(datum.value*10)%2==0","value":-6},"value":-3},"title":"Mutation rate, u","titleFontSize":21,"titlePadding":3,"labelFontSize":15,"labelPadding":9}},
"x2":{"field":"b"},
"color":{"field":"z","type":"quantitative","scale":{"domain":[0,0.12,0.24,0.36,0.48],"range":["#0000ff","#00ffff","#00ff00","#ffff00","#ff0000"],"nice":false,"zero":false},
"legend":{"type":"gradient","orient":"none","legendX":438,"legendY":-13,"direction":"vertical","title":"critical c/b","titleFontSize":17,"titleFontWeight":"normal","titlePadding":3,"titleAnchor":"start","gradientLength":361,"gradientThickness":17,"gradientStrokeWidth":0,"values":[0,0.48],"format":".2~f","labelFontSize":12,"labelOffset":4,"padding":0}},
"stroke":{"field":"z","type":"quantitative","scale":{"domain":[0,0.12,0.24,0.36,0.48001],"range":["#0000ff","#00ffff","#00ff00","#ffff00","#ff0000"],"nice":false,"zero":false},"legend":null},
"detail":{"field":"z","type":"nominal"}}},
{"data":{"values":[
{"lv":"0.20","p":1,"i":1,"u":0,"v":0.324},{"lv":"0.20","p":1,"i":2,"u":0.018,"v":0.302},{"lv":"0.20","p":1,"i":3,"u":0.035,"v":0.279},{"lv":"0.20","p":1,"i":4,"u":0.052,"v":0.256},{"lv":"0.20","p":1,"i":5,"u":0.066,"v":0.234},{"lv":"0.20","p":1,"i":6,"u":0.079,"v":0.211},{"lv":"0.20","p":1,"i":7,"u":0.089,"v":0.188},{"lv":"0.20","p":1,"i":8,"u":0.097,"v":0.165},{"lv":"0.20","p":1,"i":9,"u":0.103,"v":0.143},{"lv":"0.20","p":1,"i":10,"u":0.105,"v":0.13},
{"lv":"0.20","p":2,"i":1,"u":0.104,"v":0.086},{"lv":"0.20","p":2,"i":2,"u":0.097,"v":0.071},{"lv":"0.20","p":2,"i":3,"u":0.085,"v":0.055},{"lv":"0.20","p":2,"i":4,"u":0.066,"v":0.039},{"lv":"0.20","p":2,"i":5,"u":0.047,"v":0.027},{"lv":"0.20","p":2,"i":6,"u":0.027,"v":0.016},{"lv":"0.20","p":2,"i":7,"u":0.011,"v":0.008},{"lv":"0.20","p":2,"i":8,"u":0,"v":0.003},
{"lv":"0.10","p":1,"i":1,"u":0,"v":0.773},{"lv":"0.10","p":1,"i":2,"u":0.004,"v":0.768},{"lv":"0.10","p":1,"i":3,"u":0.05,"v":0.716},{"lv":"0.10","p":1,"i":4,"u":0.1,"v":0.658},{"lv":"0.10","p":1,"i":5,"u":0.15,"v":0.6},{"lv":"0.10","p":1,"i":6,"u":0.213,"v":0.528},{"lv":"0.10","p":1,"i":7,"u":0.24,"v":0.49},{"lv":"0.10","p":1,"i":8,"u":0.267,"v":0.451},{"lv":"0.10","p":1,"i":9,"u":0.29,"v":0.415},{"lv":"0.10","p":1,"i":10,"u":0.31,"v":0.38},{"lv":"0.10","p":1,"i":11,"u":0.318,"v":0.362},
{"lv":"0.10","p":2,"i":1,"u":0.372,"v":0.27},{"lv":"0.10","p":2,"i":2,"u":0.378,"v":0.24},{"lv":"0.10","p":2,"i":3,"u":0.38,"v":0.207},{"lv":"0.10","p":2,"i":4,"u":0.377,"v":0.18},{"lv":"0.10","p":2,"i":5,"u":0.372,"v":0.152},{"lv":"0.10","p":2,"i":6,"u":0.358,"v":0.125},{"lv":"0.10","p":2,"i":7,"u":0.337,"v":0.098},{"lv":"0.10","p":2,"i":8,"u":0.313,"v":0.075},{"lv":"0.10","p":2,"i":9,"u":0.283,"v":0.052},{"lv":"0.10","p":2,"i":10,"u":0.245,"v":0.037},{"lv":"0.10","p":2,"i":11,"u":0.205,"v":0.025},{"lv":"0.10","p":2,"i":12,"u":0.155,"v":0.018},{"lv":"0.10","p":2,"i":13,"u":0.105,"v":0.012},{"lv":"0.10","p":2,"i":14,"u":0.055,"v":0.008},{"lv":"0.10","p":2,"i":15,"u":0.012,"v":0.005},{"lv":"0.10","p":2,"i":16,"u":0,"v":0.003}
]},
"mark":{"type":"line","color":"#000","strokeWidth":1.5,"clip":true},
"encoding":{
"x":{"field":"u","type":"quantitative","scale":{"domain":[0,1],"nice":false,"zero":false},
"axis":{"orient":"top","values":[0,0.1,0.2,0.3,0.4,0.5,0.6,0.7,0.8,0.9,1],"labels":false,"title":null,"minExtent":0,"tickSize":{"condition":{"test":"round(datum.value*10)%2==0","value":-6},"value":-3}}},
"y":{"field":"v","type":"quantitative","scale":{"domain":[0,1],"nice":false,"zero":false},
"axis":{"orient":"right","values":[0,0.1,0.2,0.3,0.4,0.5,0.6,0.7,0.8,0.9,1],"labels":false,"title":null,"minExtent":0,"tickSize":{"condition":{"test":"round(datum.value*10)%2==0","value":-6},"value":-3}}},
"order":{"field":"i","type":"quantitative"},
"detail":[{"field":"lv","type":"nominal"},{"field":"p","type":"nominal"}],
"strokeDash":{"field":"lv","type":"nominal","scale":{"domain":["0.10","0.20"],"range":[[7,4],[1,0]]},"legend":null}}},
{"data":{"values":[{"lv":"0.20","u":0.107,"v":0.105},{"lv":"0.10","u":0.351,"v":0.308}]},
"mark":{"type":"text","fontSize":16,"color":"#000"},
"encoding":{"x":{"field":"u","type":"quantitative","scale":{"domain":[0,1],"nice":false,"zero":false},"axis":null},"y":{"field":"v","type":"quantitative","scale":{"domain":[0,1],"nice":false,"zero":false},"axis":null},"text":{"field":"lv"}}}
],
"resolve":{"axis":{"x":"independent","y":"independent"}}}
]
}
